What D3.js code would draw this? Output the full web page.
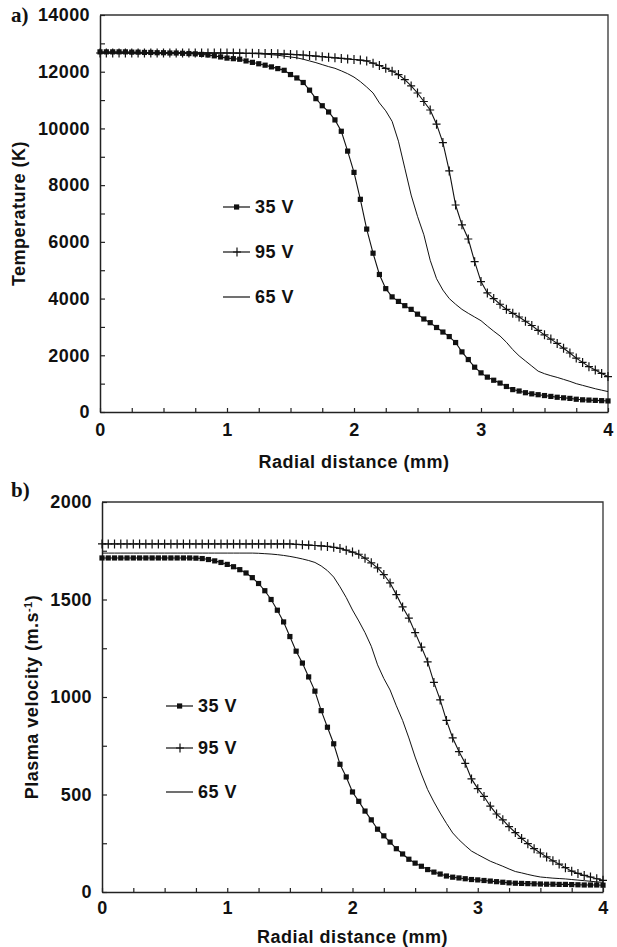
<!DOCTYPE html>
<html>
<head>
<meta charset="utf-8">
<script src="https://cdn.jsdelivr.net/npm/d3@7"></script>
<style>
    body { margin: 0; background: #fff; }
    svg text { font-family: "Liberation Sans", Arial, sans-serif; font-weight: bold; fill: #111; }
    .panel-tag { font-family: "Liberation Serif", "Times New Roman", serif !important; font-size: 21px; }
    .tick text { font-size: 18px; letter-spacing: 0.4px; }
    .axis-title, .legend-label { font-size: 18px; letter-spacing: 0.5px; }
</style>
</head>
<body>
<div id="chart"></div>
<script>
// radial distance (mm), sampled every 0.05 mm
const radius = [
    0, 0.05, 0.1, 0.15, 0.2, 0.25, 0.3, 0.35, 0.4, 0.45,
    0.5, 0.55, 0.6, 0.65, 0.7, 0.75, 0.8, 0.85, 0.9, 0.95,
    1, 1.05, 1.1, 1.15, 1.2, 1.25, 1.3, 1.35, 1.4, 1.45,
    1.5, 1.55, 1.6, 1.65, 1.7, 1.75, 1.8, 1.85, 1.9, 1.95,
    2, 2.05, 2.1, 2.15, 2.2, 2.25, 2.3, 2.35, 2.4, 2.45,
    2.5, 2.55, 2.6, 2.65, 2.7, 2.75, 2.8, 2.85, 2.9, 2.95,
    3, 3.05, 3.1, 3.15, 3.2, 3.25, 3.3, 3.35, 3.4, 3.45,
    3.5, 3.55, 3.6, 3.65, 3.7, 3.75, 3.8, 3.85, 3.9, 3.95,
    4
];

const seriesNames = ["35 V", "95 V", "65 V"];

// a) temperature (K)
const temp35 = [
    12700, 12700, 12700, 12700, 12700, 12690, 12690, 12680, 12680, 12670,
    12670, 12660, 12660, 12650, 12640, 12630, 12610, 12590, 12560, 12520,
    12480, 12460, 12440, 12380, 12330, 12280, 12230, 12170, 12110, 12050,
    11900, 11780, 11620, 11350, 11050, 10800, 10580, 10300, 9900, 9200,
    8450, 7500, 6450, 5600, 4850, 4350, 4060, 3900, 3750, 3620,
    3450, 3280, 3150, 2980, 2820, 2660, 2450, 2120, 1850, 1580,
    1380, 1230, 1120, 1020, 900, 790, 740, 680, 640, 610,
    580, 550, 520, 500, 480, 450, 430, 420, 410, 400,
    390
];
const temp95 = [
    12660, 12660, 12660, 12660, 12660, 12660, 12660, 12660, 12660, 12660,
    12660, 12660, 12660, 12660, 12660, 12660, 12660, 12660, 12660, 12660,
    12660, 12660, 12655, 12650, 12650, 12645, 12640, 12640, 12630, 12620,
    12610, 12600, 12590, 12570, 12550, 12530, 12510, 12490, 12470, 12450,
    12430, 12410, 12380, 12300, 12220, 12120, 12020, 11900, 11720, 11500,
    11250, 10950, 10650, 10150, 9500, 8500, 7300, 6600, 6100, 5300,
    4600, 4200, 4000, 3800, 3620, 3480, 3350, 3200, 3050, 2880,
    2720, 2570, 2420, 2250, 2080, 1900, 1750, 1600, 1480, 1360,
    1250
];
const temp65 = [
    12660, 12660, 12660, 12660, 12660, 12660, 12660, 12660, 12660, 12660,
    12660, 12660, 12660, 12660, 12660, 12660, 12660, 12660, 12660, 12660,
    12660, 12655, 12650, 12645, 12640, 12630, 12620, 12600, 12580, 12550,
    12520, 12490, 12440, 12380, 12320, 12250, 12180, 12120, 12030, 11930,
    11810, 11650, 11460, 11250, 10900, 10620, 10250, 9550, 8600, 7650,
    6900, 6250, 5350, 4700, 4300, 4000, 3800, 3620, 3480, 3350,
    3220, 3030, 2850, 2680, 2460, 2200, 1980, 1800, 1620, 1440,
    1350, 1280, 1220, 1150, 1080, 1000, 940, 880, 820, 770,
    720
];

// b) plasma velocity (m/s)
const vel35 = [
    1713, 1713, 1713, 1713, 1713, 1713, 1713, 1713, 1713, 1713,
    1713, 1713, 1713, 1713, 1713, 1712, 1710, 1705, 1698, 1690,
    1680, 1668, 1653, 1636, 1612, 1582, 1545, 1500, 1445, 1385,
    1310, 1235, 1174, 1103, 1030, 930, 845, 760, 655, 590,
    513, 465, 415, 370, 322, 288, 256, 222, 195, 168,
    148, 132, 115, 102, 92, 82, 76, 72, 68, 64,
    62, 59, 56, 53, 50, 47, 45, 44, 43, 42,
    41, 40, 40, 39, 39, 38, 37, 36, 36, 36,
    35
];
const vel95 = [
    1785, 1785, 1785, 1785, 1785, 1785, 1785, 1785, 1785, 1785,
    1785, 1785, 1785, 1785, 1785, 1785, 1785, 1785, 1785, 1785,
    1785, 1785, 1785, 1785, 1785, 1785, 1785, 1785, 1785, 1785,
    1785, 1783, 1781, 1779, 1777, 1775, 1772, 1768, 1762, 1753,
    1743, 1732, 1712, 1688, 1662, 1628, 1585, 1525, 1462, 1405,
    1330, 1256, 1180, 1075, 985, 880, 790, 720, 660, 580,
    530, 490, 440, 400, 370, 335, 305, 275, 248, 222,
    200, 180, 160, 143, 125, 107, 95, 85, 77, 68,
    60
];
const vel65 = [
    1738, 1738, 1738, 1738, 1738, 1738, 1738, 1738, 1738, 1738,
    1738, 1738, 1738, 1738, 1738, 1738, 1738, 1738, 1738, 1738,
    1738, 1738, 1738, 1738, 1738, 1737, 1735, 1733, 1730, 1726,
    1721, 1715, 1708, 1700, 1690, 1672, 1648, 1615, 1565, 1510,
    1446, 1390, 1330, 1260, 1165, 1095, 1036, 955, 880, 790,
    692, 605, 525, 462, 405, 352, 303, 268, 238, 210,
    192, 175, 158, 145, 132, 118, 105, 98, 90, 83,
    77, 74, 71, 69, 67, 64, 61, 58, 55, 52,
    50
];

// axis ticks
const radiusTicks = [0, 0.25, 0.5, 0.75, 1, 1.25, 1.5, 1.75, 2, 2.25, 2.5, 2.75, 3, 3.25, 3.5, 3.75, 4];
const tempTicks = [0, 1000, 2000, 3000, 4000, 5000, 6000, 7000, 8000, 9000, 10000, 11000, 12000, 13000, 14000];
const velTicks = [0, 250, 500, 750, 1000, 1250, 1500, 1750, 2000];


class ProfilePanel {
    constructor(svg, cfg) {
        this.svg = svg;
        this.cfg = cfg;
        this.initVis();
    }

    initVis() {
        let vis = this;
        const c = vis.cfg;

        vis.width = c.right - c.left;
        vis.height = c.bottom - c.top;

        vis.g = vis.svg.append("g")
            .attr("transform", `translate(${c.left}, ${c.top})`);

        vis.x = d3.scaleLinear().domain([0, 4]).range([0, vis.width]);
        vis.y = d3.scaleLinear().domain([0, c.yMax]).range([vis.height, 0]);

        // frame (top + right sides)
        vis.g.append("path")
            .attr("d", `M0,0H${vis.width}V${vis.height}`)
            .attr("fill", "none")
            .attr("stroke", "#333")
            .attr("stroke-width", 1.3);

        // axes, ticks pointing inward
        const xAxis = d3.axisBottom(vis.x)
            .tickValues(radiusTicks)
            .tickSizeInner(-4)
            .tickSizeOuter(0)
            .tickPadding(c.xPad)
            .tickFormat(d => Number.isInteger(d) ? d : "");

        vis.g.append("g")
            .attr("class", "x-axis")
            .attr("transform", `translate(0, ${vis.height})`)
            .call(xAxis);

        const yAxis = d3.axisLeft(vis.y)
            .tickValues(c.yTicks)
            .tickSizeInner(-5)
            .tickSizeOuter(0)
            .tickPadding(10)
            .tickFormat(d => d % c.yLabelStep === 0 ? d : "");

        vis.g.append("g")
            .attr("class", "y-axis")
            .call(yAxis);

        vis.g.selectAll(".x-axis path, .y-axis path")
            .attr("stroke", "#222")
            .attr("stroke-width", 1.5);
        vis.g.selectAll(".tick line")
            .attr("stroke", "#222")
            .attr("stroke-width", 1.2);
        vis.g.selectAll(".tick text").attr("fill", "#111");

        // panel tag and axis titles
        vis.svg.append("text")
            .attr("class", "panel-tag")
            .attr("x", c.tagX)
            .attr("y", c.tagY)
            .text(c.tag);

        vis.svg.append("text")
            .attr("class", "axis-title")
            .attr("x", c.left + vis.width / 2)
            .attr("y", c.xTitleY)
            .attr("text-anchor", "middle")
            .text("Radial distance (mm)");

        const yt = vis.svg.append("text")
            .attr("class", "axis-title")
            .attr("transform", `translate(${c.yTitleX}, ${c.top + vis.height / 2}) rotate(-90)`)
            .attr("text-anchor", "middle")
            .text(c.yTitle);
        if (c.yTitleSup) {
            yt.append("tspan")
                .attr("baseline-shift", "super")
                .attr("font-size", "11px")
                .text(c.yTitleSup);
            yt.append("tspan").text(")");
        }

        vis.drawSeries();
        vis.drawLegend();
    }

    drawSeries() {
        let vis = this;
        const c = vis.cfg;

        const line = d3.line()
            .x((d, i) => vis.x(radius[i]))
            .y(d => vis.y(d));

        // 65 V: plain line
        vis.g.append("path")
            .datum(c.s65)
            .attr("fill", "none")
            .attr("stroke", "#111")
            .attr("stroke-width", 1)
            .attr("d", line);

        // 95 V: line with plus markers
        vis.g.append("path")
            .datum(c.s95)
            .attr("fill", "none")
            .attr("stroke", "#111")
            .attr("stroke-width", 1.1)
            .attr("d", line);

        vis.g.selectAll(".plus")
            .data(c.s95)
            .enter()
            .append("path")
            .attr("class", "plus")
            .attr("transform", (d, i) => `translate(${vis.x(radius[i])}, ${vis.y(d)})`)
            .attr("d", "M-4,0H4M0,-4.5V4.5")
            .attr("stroke", "#111")
            .attr("stroke-width", 1.2);

        // 35 V: line with square markers
        vis.g.append("path")
            .datum(c.s35)
            .attr("fill", "none")
            .attr("stroke", "#111")
            .attr("stroke-width", 1.1)
            .attr("d", line);

        vis.g.selectAll(".sq")
            .data(c.s35)
            .enter()
            .append("rect")
            .attr("class", "sq")
            .attr("x", (d, i) => vis.x(radius[i]) - 2.6)
            .attr("y", d => vis.y(d) - 2.6)
            .attr("width", 5.2)
            .attr("height", 5.2)
            .attr("fill", "#111");
    }

    drawLegend() {
        let vis = this;
        const c = vis.cfg;
        const markers = ["square", "plus", "none"];

        seriesNames.forEach((name, i) => {
            const ly = c.legendY[i];
            const lg = vis.svg.append("g")
                .attr("transform", `translate(${c.legendX}, ${ly})`);

            lg.append("line")
                .attr("x1", 0).attr("x2", 27)
                .attr("stroke", "#111")
                .attr("stroke-width", 1.2);

            if (markers[i] === "square") {
                lg.append("rect")
                    .attr("x", 11).attr("y", -2.6)
                    .attr("width", 5.2).attr("height", 5.2)
                    .attr("fill", "#111");
            } else if (markers[i] === "plus") {
                lg.append("path")
                    .attr("d", "M10,0H18M14,-4.5V4.5")
                    .attr("stroke", "#111")
                    .attr("stroke-width", 1.2);
            }

            lg.append("text")
                .attr("class", "legend-label")
                .attr("x", 32)
                .attr("y", 0)
                .attr("dy", "0.36em")
                .text(name);
        });
    }
}

const svg = d3.select("#chart")
    .append("svg")
    .attr("width", 617)
    .attr("height", 947);

new ProfilePanel(svg, {
    left: 100, right: 608, top: 15, bottom: 412,
    yMax: 14000, yTicks: tempTicks, yLabelStep: 2000,
    s35: temp35, s95: temp95, s65: temp65,
    xPad: 11, xTitleY: 468,
    yTitle: "Temperature (K)", yTitleX: 25,
    tag: "a)", tagX: 11, tagY: 22,
    legendX: 223, legendY: [207, 252, 297]
});

new ProfilePanel(svg, {
    left: 102, right: 603, top: 502, bottom: 892,
    yMax: 2000, yTicks: velTicks, yLabelStep: 500,
    s35: vel35, s95: vel95, s65: vel65,
    xPad: 9, xTitleY: 943,
    yTitle: "Plasma velocity (m.s", yTitleSup: "-1", yTitleX: 38,
    tag: "b)", tagX: 11, tagY: 497,
    legendX: 166, legendY: [706, 748, 792]
});
</script>
</body>
</html>
